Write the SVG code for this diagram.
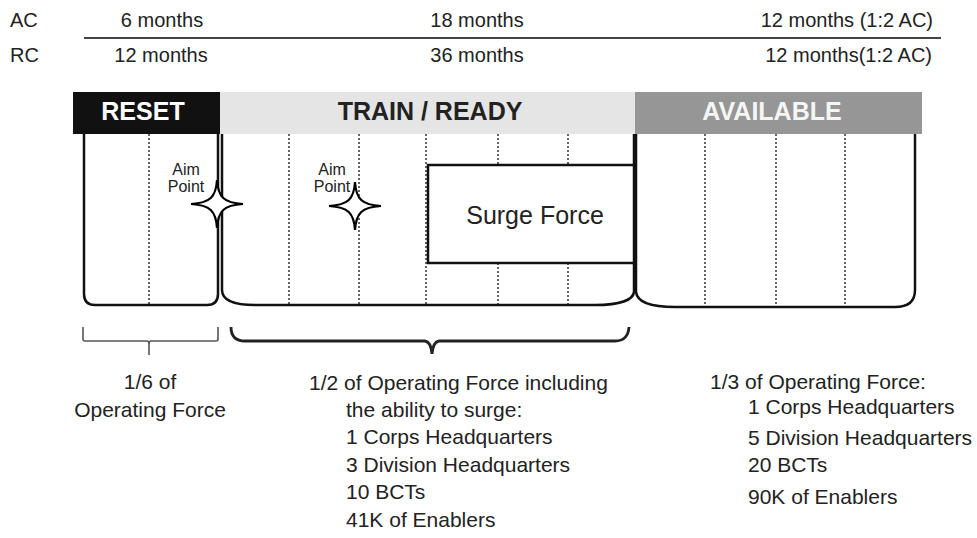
<svg xmlns="http://www.w3.org/2000/svg" width="977" height="538" viewBox="0 0 977 538">
<style>
  text { font-family: "Liberation Sans", Arial, sans-serif; fill: #222; }
  .top { font-size: 20px; }
  .hdr { font-size: 25px; font-weight: bold; }
  .aim { font-size: 16px; }
  .lbl { font-size: 21px; }
  .box { fill: none; stroke: #111; stroke-width: 2.5; }
  .dot { stroke: #333; stroke-width: 1.5; stroke-dasharray: 2 2; }
  .star { fill: #fff; stroke: #000; stroke-width: 2.2; stroke-linejoin: miter; }
</style>
<defs>
  <path id="star" d="M0,-24 C1,-7 7,-1 26,0 C7,1 1,7 0,24 C-1,7 -7,1 -26,0 C-7,-1 -1,-7 0,-24 Z"/>
</defs>
<rect width="977" height="538" fill="#fff"/>

<g id="timeline">
  <text class="top" x="10" y="27">AC</text>
  <text class="top" x="162" y="27" text-anchor="middle">6 months</text>
  <text class="top" x="477" y="27" text-anchor="middle">18 months</text>
  <text class="top" x="933" y="27" text-anchor="end">12 months (1:2 AC)</text>
  <line x1="84" y1="38" x2="941" y2="38" stroke="#444" stroke-width="2"/>
  <text class="top" x="10" y="62">RC</text>
  <text class="top" x="161" y="62" text-anchor="middle">12 months</text>
  <text class="top" x="477" y="62" text-anchor="middle">36 months</text>
  <text class="top" x="932" y="62" text-anchor="end">12 months(1:2 AC)</text>
</g>

<g id="reset">
  <rect x="73" y="92" width="147" height="42" fill="#111"/>
  <text class="hdr" x="143" y="120" text-anchor="middle" style="fill:#fff">RESET</text>
  <line class="dot" x1="149" y1="134" x2="149" y2="304"/>
  <path class="box" d="M84,134 V294 Q84,305 95,305 H207 Q218,305 218,294 V134"/>
</g>

<g id="train-ready">
  <rect x="220" y="92" width="415" height="42" fill="#e5e5e5"/>
  <text class="hdr" x="430" y="120" text-anchor="middle">TRAIN / READY</text>
  <line class="dot" x1="289" y1="134" x2="289" y2="305"/>
  <line class="dot" x1="359" y1="134" x2="359" y2="305"/>
  <line class="dot" x1="426" y1="134" x2="426" y2="305"/>
  <line class="dot" x1="498" y1="134" x2="498" y2="165"/>
  <line class="dot" x1="498" y1="263" x2="498" y2="305"/>
  <line class="dot" x1="568" y1="134" x2="568" y2="165"/>
  <line class="dot" x1="568" y1="263" x2="568" y2="305"/>
  <path class="box" d="M222,134 V290 C222,300 232,305 255,305 H595 C620,305 633,300 634,292 V134"/>
</g>

<g id="surge-force">
  <rect x="428" y="165" width="206" height="98" fill="#fff" stroke="#111" stroke-width="2.5"/>
  <text x="535" y="224" text-anchor="middle" style="font-size:25px">Surge Force</text>
</g>

<g id="available">
  <rect x="635" y="92" width="287" height="42" fill="#969696"/>
  <text class="hdr" x="772" y="120" text-anchor="middle" style="fill:#f5f5f5">AVAILABLE</text>
  <line class="dot" x1="705" y1="134" x2="705" y2="307"/>
  <line class="dot" x1="776" y1="134" x2="776" y2="307"/>
  <line class="dot" x1="845" y1="134" x2="845" y2="307"/>
  <path class="box" d="M636,134 V292 C637,301 648,307 675,307 H895 C910,307 915,300 915,290 V134"/>
</g>

<g id="aim-point-1">
  <text class="aim" x="186" y="175" text-anchor="middle">Aim</text>
  <text class="aim" x="186" y="192" text-anchor="middle">Point</text>
  <use href="#star" class="star" x="217" y="204"/>
</g>

<g id="aim-point-2">
  <text class="aim" x="332" y="175" text-anchor="middle">Aim</text>
  <text class="aim" x="332" y="192" text-anchor="middle">Point</text>
  <use href="#star" class="star" x="355" y="206"/>
</g>

<g id="connectors">
  <path d="M83,327 V339 Q83,341 85,341 H147 Q149,341 149,344 V355 M149,344 Q149,341 151,341 H216 Q218,341 218,339 V327" fill="none" stroke="#555" stroke-width="1.6"/>
  <path d="M231,327 Q231,341 245,341 H425 Q431,342 432,354 Q433,342 439,341 H615 Q628,341 629,327" fill="none" stroke="#222" stroke-width="2.8"/>
</g>

<g id="reset-label">
  <text class="lbl" x="150" y="389" text-anchor="middle">1/6 of</text>
  <text class="lbl" x="150" y="417" text-anchor="middle">Operating Force</text>
</g>

<g id="train-label">
  <text class="lbl" x="309" y="390">1/2 of Operating Force including</text>
  <text class="lbl" x="346" y="417">the ability to surge:</text>
  <text class="lbl" x="346" y="444">1 Corps Headquarters</text>
  <text class="lbl" x="346" y="472">3 Division Headquarters</text>
  <text class="lbl" x="346" y="499">10 BCTs</text>
  <text class="lbl" x="346" y="527">41K of Enablers</text>
</g>

<g id="available-label">
  <text class="lbl" x="710" y="389">1/3 of Operating Force:</text>
  <text class="lbl" x="748" y="414">1 Corps Headquarters</text>
  <text class="lbl" x="748" y="445">5 Division Headquarters</text>
  <text class="lbl" x="748" y="472">20 BCTs</text>
  <text class="lbl" x="748" y="504">90K of Enablers</text>
</g>
</svg>
